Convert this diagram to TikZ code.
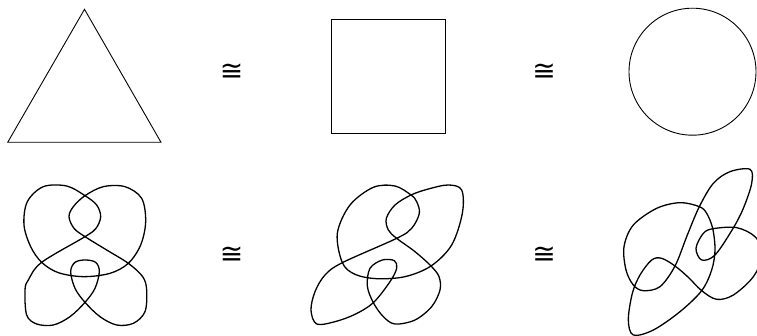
\documentclass[tikz,border=0pt]{standalone}
\usepackage{fontspec}
\newfontfamily\symfont{DejaVu Sans}
\begin{document}
\begin{tikzpicture}[x=1pt,y=-1pt,
  outl/.style={line width=0.9pt, line join=miter},
  knot/.style={line width=1.3pt, line join=round},
  congsym/.style={inner sep=0pt, font=\symfont\fontsize{28}{34}\selectfont}]
\useasboundingbox (0,0) rectangle (757,336);
\clip (0,0) rectangle (757,336);
% top row
\draw[outl] (84.5,9.3) coordinate (tA) -- (161,142.3) coordinate (tB) -- (7.7,142.3) coordinate (tC) -- cycle;
\node[draw, outl, minimum width=114pt, minimum height=113.5pt, inner sep=0pt] (sq) at (388,76.4) {};
\node[draw, outl, circle, minimum size=127pt, inner sep=0pt] (ci) at (692.5,71.7) {};
\node[congsym] (c1) at (231.5,72.5) {≅};
\node[congsym] (c2) at (544,72.5) {≅};
\node[congsym] (c3) at (231.5,255) {≅};
\node[congsym] (c4) at (544,255) {≅};
% knot 1
\begin{scope}[shift={(0,175)}, scale=1/3]
\draw[knot] plot[smooth cycle, tension=0.55] coordinates {
(255,62) (200,33) (130,35) (82,80) (72,150) (92,215) (125,262) (175,293) (250,305) (330,295)
(385,265) (422,210) (437,140) (425,70) (375,35) (310,35) (255,62) (220,95) (207,125) (222,160)
(255,185) (320,225) (385,265) (428,305) (440,345) (435,410) (400,445) (350,450) (300,425)
(255,382) (225,340) (212,290) (225,262) (255,255) (287,262) (298,290) (285,340) (255,382)
(210,425) (160,450) (110,447) (80,420) (75,345) (85,315) (125,262) (255,185) (288,160)
(302,125) (290,90)};
\end{scope}
% knot 2
\begin{scope}[shift={(305,180)}, scale=1/3]
\draw[knot] plot[smooth cycle, tension=0.55] coordinates {
(318,45) (270,18) (205,22) (135,75) (97,160) (112,248) (150,283) (215,296) (300,290)
(378,258) (440,195) (472,100) (470,30) (430,15) (370,27) (318,45) (270,75) (244,115) (250,150)
(275,175) (330,215) (378,258) (402,290) (405,330) (380,380) (330,420) (270,432) (235,410)
(205,368) (187,318) (195,265) (232,240) (268,242) (275,265) (255,305) (205,368)
(150,403) (90,425) (35,432) (18,390) (30,335) (60,285) (112,248) (275,175) (320,145)
(343,100) (335,65)};
\end{scope}
% knot 3
\begin{scope}[shift={(600,160)}, scale=1/3]
\draw[knot] plot[smooth cycle, tension=0.55] coordinates {
(130,392) (180,380) (225,318) (262,225) (298,140) (340,70) (390,35) (450,28) (455,70)
(430,145) (398,207) (345,285) (305,300) (288,265) (310,220) (340,206) (410,203) (465,230)
(490,280) (460,350) (400,405) (350,418) (305,392) (265,352) (225,318) (185,295) (155,300)
(120,345) (97,400) (85,480) (100,525) (160,510) (240,455) (305,392) (335,330) (345,270)
(338,205) (320,160) (298,140) (240,128) (170,145) (100,195) (72,260) (78,330) (100,375)};
\end{scope}
\end{tikzpicture}
\end{document}
